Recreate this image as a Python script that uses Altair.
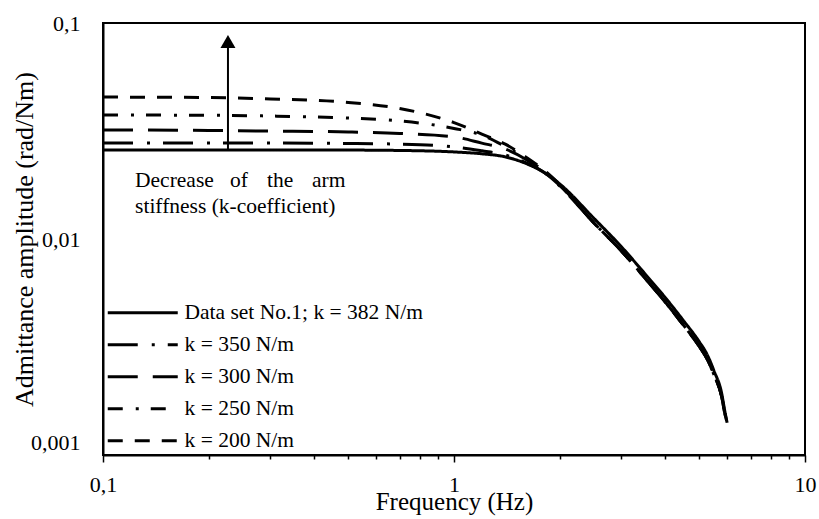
import altair as alt
import pandas as pd

FONT = "Liberation Serif"

# ---- data ----
freq = [0.1, 0.2, 0.3, 0.5, 0.7, 1.0, 1.2, 1.4, 1.6, 1.8, 2.0, 2.5, 3.0, 3.5,
        4.0, 4.5, 5.0, 5.25, 5.5, 5.8, 5.9, 6.0]

amp_382 = [0.0258, 0.0258, 0.0258, 0.0258, 0.0257, 0.0253, 0.0248, 0.0240, 0.0224,
           0.0204, 0.0180, 0.0125, 0.0092, 0.0069, 0.00535, 0.0042, 0.00334, 0.00294,
           0.00246, 0.0019, 0.00162, 0.00141]
amp_350 = [0.0278, 0.0278, 0.0278, 0.0277, 0.0275, 0.0267, 0.0256, 0.0245, 0.0226,
           0.0204, 0.0176, 0.0119, 0.0088, 0.0066, 0.0051, 0.0040, 0.00318, 0.0028,
           0.00236, 0.00184, 0.00158, 0.00141]
amp_300 = [0.0320, 0.0318, 0.0316, 0.0313, 0.0308, 0.0297, 0.0278, 0.0261, 0.0234,
           0.0205, 0.0177, 0.0119, 0.0088, 0.0066, 0.0051, 0.0040, 0.00318, 0.0028,
           0.00236, 0.00184, 0.00158, 0.00141]
amp_250 = [0.0375, 0.0374, 0.0371, 0.0363, 0.0352, 0.0325, 0.0303, 0.0268, 0.0236,
           0.0207, 0.0178, 0.0119, 0.0088, 0.0066, 0.0051, 0.0040, 0.00318, 0.0028,
           0.00236, 0.00184, 0.00158, 0.00141]
amp_200 = [0.0454, 0.0452, 0.0445, 0.0429, 0.0402, 0.0346, 0.0306, 0.0275, 0.0240,
           0.0209, 0.0179, 0.0119, 0.0088, 0.0066, 0.0051, 0.0040, 0.00318, 0.0028,
           0.00236, 0.00184, 0.00158, 0.00141]

series_labels = ["Data set No.1; k = 382 N/m", "k = 350 N/m", "k = 300 N/m",
                 "k = 250 N/m", "k = 200 N/m"]
series_values = [amp_382, amp_350, amp_300, amp_250, amp_200]
dash_patterns = [[1, 0], [30, 14, 3, 13], [30, 15], [15, 13, 3, 12], [15, 12]]

x_ticks = [0.1, 0.2, 0.3, 0.4, 0.5, 0.6, 0.7, 0.8, 0.9,
           1, 2, 3, 4, 5, 6, 7, 8, 9, 10]
y_ticks = [0.001, 0.01, 0.1]

# arrow annotation (frequency, amplitude from -> to)
arrow_f = [0.227]
arrow_from = [0.0258]
arrow_to = [0.0821]

# annotation words (frequency, amplitude, text)
note_text = ["Decrease", "of", "the", "arm", "stiffness (k-coefficient)"]
note_f = [0.1234, 0.2301, 0.2933, 0.3938, 0.1234]
note_a = [0.01741, 0.01741, 0.01741, 0.01741, 0.01319]

# ---- build tables ----
rows = []
for lab, amps in zip(series_labels, series_values):
    for f, a in zip(freq, amps):
        rows.append({"f": f, "A": a, "series": lab})
df = pd.DataFrame(rows)

df_arrow = pd.DataFrame({"f": arrow_f, "A": arrow_from, "A2": arrow_to})
df_head = pd.DataFrame({"f": arrow_f, "A": arrow_to})
df_note = pd.DataFrame({"f": note_f, "A": note_a, "t": note_text})

decade = "abs(log(datum.value)/LN10 - round(log(datum.value)/LN10)) < 0.001"

xscale = alt.Scale(type="log", domain=[0.1, 10], nice=False)
yscale = alt.Scale(type="log", domain=[0.001, 0.1], nice=False)

x_axis = alt.Axis(
    values=x_ticks,
    labelExpr=f"({decade}) ? replace(format(datum.value, ''), '.', ',') : ''",
    tickSize={"condition": {"test": decade, "value": 7}, "value": 4},
    tickColor="black", tickWidth=1.5,
    domainColor="black", domainWidth=2,
    grid=False, labelOverlap=False, labelFlush=False,
    labelFont=FONT, labelFontSize=22, labelColor="black", labelPadding=12,
    title="Frequency (Hz)", titleFont=FONT, titleFontSize=25,
    titleFontWeight="normal", titleColor="black",
    titleBaseline="alphabetic", titleY=54,
)

y_axis = alt.Axis(
    values=y_ticks,
    labelExpr="replace(format(datum.value, ''), '.', ',')",
    ticks=False, tickSize=0,
    domainColor="black", domainWidth=2,
    grid=False, labelOverlap=False, labelFlush=False,
    labelFont=FONT, labelFontSize=22, labelColor="black", labelPadding=23,
    labelOffset={"condition": {"test": "datum.value < 0.002", "value": -13}, "value": 0},
    title="Admittance amplitude (rad/Nm)", titleFont=FONT, titleFontSize=26,
    titleFontWeight="normal", titleColor="black",
    titleBaseline="alphabetic", titleX=-71, titleY=216, titleAngle=270,
    titleAlign="center",
)

X = alt.X("f:Q", scale=xscale, axis=x_axis)
Y = alt.Y("A:Q", scale=yscale, axis=y_axis)

lines = alt.Chart(df).mark_line(color="black", strokeWidth=3, interpolate="monotone").encode(
    x=X,
    y=Y,
    strokeDash=alt.StrokeDash(
        "series:N",
        scale=alt.Scale(domain=series_labels, range=dash_patterns),
        sort=series_labels,
        legend=alt.Legend(
            title=None, orient="none", legendX=29, legendY=279,
            symbolType="M-5,0H5", symbolSize=196, symbolStrokeWidth=3,
            symbolStrokeColor="black", symbolFillColor="transparent",
            labelFont=FONT, labelFontSize=21.5,
            labelColor="black", labelOffset=31, rowPadding=9, padding=0,
            labelLimit=400,
        ),
    ),
)

arrow = alt.Chart(df_arrow).mark_rule(color="black", strokeWidth=2).encode(
    x=X, y=Y, y2="A2:Q",
)

head = alt.Chart(df_head).mark_point(
    shape="triangle-up", size=225, filled=True, color="black", opacity=1, strokeWidth=0
).encode(x=X, y=Y)

note = alt.Chart(df_note).mark_text(
    align="left", baseline="alphabetic", font=FONT, fontSize=21.5, color="black"
).encode(x=X, y=Y, text="t:N")

chart = alt.layer(lines, arrow, head, note).properties(
    width=702, height=432,
    padding={"left": 103, "top": 23, "right": 14, "bottom": 64},
    autosize=alt.AutoSizeParams(type="none"),
    background="white",
).configure_view(stroke="black", strokeWidth=2)

chart.save("out.html", embed_options={"renderer": "svg", "actions": False})
